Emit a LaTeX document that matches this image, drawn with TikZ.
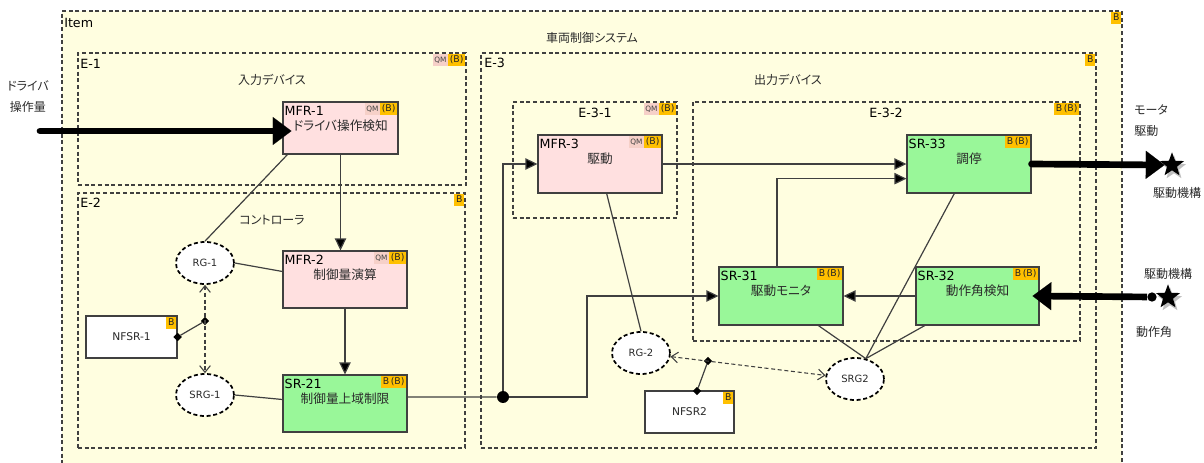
\documentclass[tikz,border=0pt]{standalone}
\usepackage{fontspec}
\setmainfont{DejaVu Sans}
\newfontfamily\jp[RawFeature=+palt]{Noto Sans CJK JP}
\usetikzlibrary{arrows.meta,shapes.geometric,fit,calc}
\definecolor{itemfill}{HTML}{FFFEE0}
\definecolor{pinkbox}{HTML}{FFE0E0}
\definecolor{greenbox}{HTML}{99F799}
\definecolor{tagc}{HTML}{FFC000}
\definecolor{qmc}{HTML}{F6D0C8}
\definecolor{edge}{HTML}{404040}
\definecolor{lbl}{HTML}{2A2A2A}
\newcommand{\tagB}[1]{\node[tagb] (#1tag) at ($(#1.north east)+(-1,1)$) {B};}
\newcommand{\tagBB}[1]{\node[tagb] (#1tag) at ($(#1.north east)+(-1,1)$) {B\,(B)};}
\newcommand{\tagQM}[1]{\node[tagb] (#1tag) at ($(#1.north east)+(-1,1)$) {(B)};\node[tagq] (#1qm) at (#1tag.north west) {QM};}
\begin{document}
\begin{tikzpicture}[x=0.75pt,y=-0.75pt,
  cont/.style={draw=edge, dash pattern=on 3pt off 2pt, line width=0.8pt, inner sep=0pt},
  blk/.style={draw=edge, line width=0.8pt, inner sep=0pt},
  pinkblk/.style={blk, fill=pinkbox},
  greenblk/.style={blk, fill=greenbox},
  whiteblk/.style={blk, fill=white},
  goal/.style={ellipse, draw=black, fill=white, line width=1.3pt, dash pattern=on 3pt off 2pt, minimum width=43.5pt, minimum height=31.5pt, inner sep=0pt, font=\fontsize{7.5}{8}\selectfont, text=lbl},
  idlbl/.style={anchor=base west, inner sep=0pt, font=\fontsize{9.5}{10}\selectfont},
  jplbl/.style={anchor=base, inner sep=0pt, font=\jp\fontsize{9.5}{10}\selectfont, text=lbl},
  title/.style={inner sep=0pt, font=\jp\fontsize{9}{10}\selectfont, text=lbl},
  clbl/.style={anchor=west, inner sep=0pt, font=\fontsize{9.5}{10}\selectfont},
  nlbl/.style={inner sep=0pt, font=\fontsize{8}{9}\selectfont, text=lbl},
  tagb/.style={fill=tagc, inner xsep=1.3pt, inner ysep=1pt, text height=5.8pt, text depth=1.2pt, font=\fontsize{7}{7}\selectfont, text=black!85, anchor=north east},
  tagq/.style={fill=qmc, inner xsep=0.8pt, inner ysep=1pt, text height=5.8pt, text depth=1.2pt, font=\fontsize{5.5}{6}\selectfont, text=black!75, anchor=north east},
  conn/.style={draw=edge, line width=0.9pt},
  arr/.style={conn, -{Triangle[length=9pt,width=8.5pt,fill=black]}},
  glink/.style={draw=edge, line width=0.8pt, dash pattern=on 3pt off 2pt, {Straight Barb[length=5pt,width=8pt]}-{Straight Barb[length=5pt,width=8pt]}},
  fat/.style={line width=5pt, draw=black, -{Triangle[length=14pt,width=21pt,line width=0.1pt]}},
  jdia/.style={diamond, fill=black, inner sep=0pt, minimum size=6.5pt},
  jdot/.style={circle, fill=black, inner sep=0pt, minimum size=9pt},
  starn/.style={star, star points=5, star point ratio=2.4, fill=black, minimum size=19pt, inner sep=0pt}
]
\useasboundingbox (0,0) rectangle (1204,463);
% Item
\node[cont, fill=itemfill, fit={(62,11) (1122,475)}] (item) {};
\node[clbl] (itemlbl) at (64,23) {Item};
\node[title] (itemttl) at (592,38) {車両制御システム};
\tagB{item}
% containers
\node[cont, fit={(78,53) (466,185)}] (e1) {};
\node[cont, fit={(78,193) (465,448)}] (e2) {};
\node[cont, fit={(481,53) (1096,448)}] (e3) {};
\node[cont, fit={(513,102) (677,218)}] (e31) {};
\node[cont, fit={(693,102) (1080,341)}] (e32) {};
\node[clbl] (e1lbl) at (80,64) {E-1};
\node[clbl] (e2lbl) at (80,203) {E-2};
\node[clbl] (e3lbl) at (484,63) {E-3};
\node[clbl, anchor=center] (e31lbl) at (595,113) {E-3-1};
\node[clbl, anchor=center] (e32lbl) at (886,113) {E-3-2};
\node[title] (e1ttl) at (272,80) {入力デバイス};
\node[title] (e2ttl) at (272,220) {コントローラ};
\node[title] (e3ttl) at (788,80) {出力デバイス};
\tagQM{e1}
\tagB{e2}
\tagB{e3}
\tagQM{e31}
\tagBB{e32}
% blocks
\node[pinkblk, fit={(283,102) (398,154)}] (mfr1) {};
\node[pinkblk, fit={(283,251) (407,308)}] (mfr2) {};
\node[greenblk, fit={(283,375) (407,432)}] (sr21) {};
\node[pinkblk, fit={(538,135) (662,193)}] (mfr3) {};
\node[greenblk, fit={(907,135) (1031,193)}] (sr33) {};
\node[greenblk, fit={(719,267) (843,325)}] (sr31) {};
\node[greenblk, fit={(916,267) (1039,325)}] (sr32) {};
\node[whiteblk, fit={(86,316) (177,358)}] (nfsr1) {};
\node[whiteblk, fit={(645,391) (734,433)}] (nfsr2) {};
\node[nlbl] (nfsr1lbl) at (nfsr1.center) {NFSR-1};
\node[nlbl] (nfsr2lbl) at (nfsr2.center) {NFSR2};
\tagB{nfsr1}
\tagB{nfsr2}
\foreach \b/\i/\t in {mfr1/MFR-1/ドライバ操作検知, mfr2/MFR-2/制御量演算, sr21/SR-21/制御量上域制限, mfr3/MFR-3/駆動, sr33/SR-33/調停, sr31/SR-31/駆動モニタ, sr32/SR-32/動作角検知}{
  \node[idlbl] (\b id) at ($(\b.north west)+(2,14)$) {\i};
  \node[jplbl] (\b jp) at ($(\b.north)+(0,29)$) {\t};
}
\tagQM{mfr1}
\tagQM{mfr2}
\tagQM{mfr3}
\tagBB{sr21}
\tagBB{sr31}
\tagBB{sr32}
\tagBB{sr33}
% goals
\node[goal] (rg1) at (205,263) {RG-1};
\node[goal] (srg1) at (205,395) {SRG-1};
\node[goal] (rg2) at (641,353) {RG-2};
\node[goal] (srg2) at (855,379) {SRG2};
% junctions
\node[jdot] (jd) at (503,397) {};
\coordinate (c1) at (587,397);
\node[jdia] (j1) at (205,321) {};
\node[jdia] (j1n) at (nfsr1.east) {};
\node[jdia] (j2) at (708,361) {};
\node[jdia] (j2n) at (697,391) {};
% connectors
\draw[arr] (mfr1.south) -- (mfr1.south |- mfr2.north);
\draw[arr] (mfr2) -- (sr21);
\draw[conn] ($(mfr1.south west)+(5,0)$) -- (rg1.north);
\draw[conn] (rg1.east) -- ([yshift=6pt]mfr2.west);
\draw[conn] (srg1.east) -- ([yshift=3pt]sr21.west);
\draw[glink] (rg1) -- (srg1);
\draw[conn] (j1n) -- (j1);
\draw[conn] ([yshift=4.9pt]sr21.east) -- (jd);
\draw[arr] (jd) |- (mfr3);
\draw[arr] (jd) -- (c1) |- (sr31);
\draw[arr] (mfr3) -- (sr33);
\draw[arr] ([xshift=-3pt]sr31.north) |- ([yshift=-11pt]sr33.west);
\draw[arr] (sr32) -- (sr31);
\draw[conn] ([xshift=5pt]mfr3.south) -- (rg2.north);
\draw[conn] ([xshift=28pt]sr31.south) -- (srg2.62);
\draw[conn] ([xshift=-11pt]sr33.south) -- (srg2.62);
\draw[conn] ([xshift=7pt]sr32.south west) -- (srg2.62);
\draw[glink] (rg2) -- (srg2);
\draw[conn] (j2n) -- (j2);
% external
\coordinate (drv) at (40,131);
\node[title] (drvl1) at (28,86) {ドライバ};
\node[title] (drvl2) at (28,107) {操作量};
\draw[fat, line cap=round] (drv) -- ($(mfr1.west |- drv)+(9,0)$);
\node[starn, fill=gray!50] (star1s) at (1174,168) {};
\node[starn] (star1) at (1172,165) {};
\node[title, anchor=west] (motl1) at (1134,110) {モータ};
\node[title, anchor=west] (motl2) at (1134,131) {駆動};
\node[title] (mechl1) at (1177,193) {駆動機構};
\draw[fat, line cap=round] (sr33.east) -- (star1.west);
\node[starn, fill=gray!50] (star2s) at (1170,300) {};
\node[starn] (star2) at (1168,297) {};
\node[jdot, minimum size=7pt] (d2) at (1152,297) {};
\node[title] (mechl2) at (1168,274) {駆動機構};
\node[title] (angl) at (1154,332) {動作角};
\draw[fat] (d2) -- ($(sr32.east)+(-7,0)$);
\end{tikzpicture}
\end{document}
